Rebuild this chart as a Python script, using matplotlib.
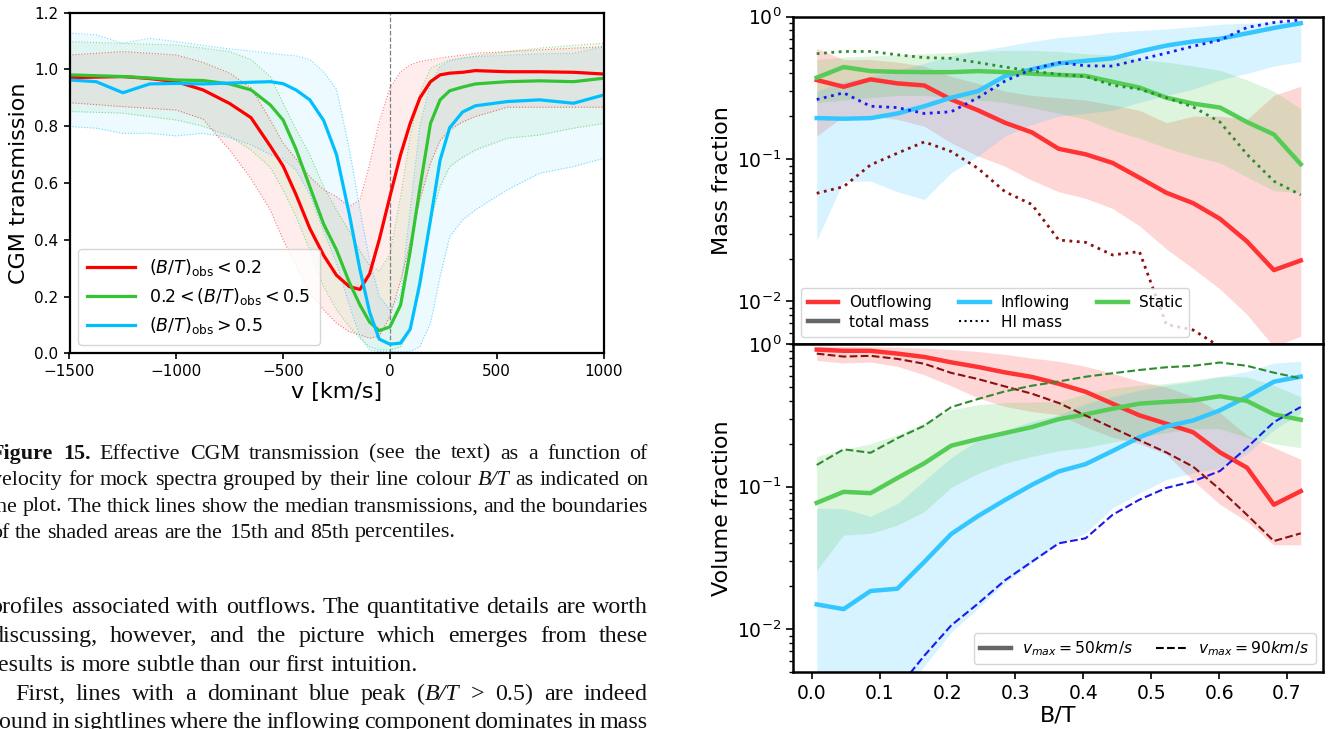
import re
import numpy as np
import matplotlib
matplotlib.use('Agg')
import matplotlib.pyplot as plt
from matplotlib.lines import Line2D

# ---------------- data: left panel (CGM transmission) ----------------
V = [-1500, -1375, -1250, -1125, -1000, -875, -750, -650, -560, -500, -440, -375, -310, -250, -190,
     -140, -95, -50, 0, 50, 95, 140, 190, 235, 280, 340, 400, 550, 700, 860, 1000]
red_med = [0.971, 0.973, 0.975, 0.968, 0.957, 0.928, 0.88, 0.83, 0.73, 0.66, 0.56, 0.44, 0.345, 0.275, 0.235,
           0.225, 0.28, 0.40, 0.552, 0.70, 0.81, 0.899, 0.957, 0.981, 0.987, 0.99, 0.996, 0.992, 0.992, 0.99, 0.984]
red_lo = [0.883, 0.876, 0.869, 0.863, 0.857, 0.825, 0.716, 0.615, 0.505, 0.40, 0.31, 0.211, 0.153, 0.106, 0.076,
          0.065, 0.053, 0.06, 0.13, 0.255, 0.39, 0.54, 0.67, 0.75, 0.787, 0.815, 0.834, 0.867, 0.867, 0.867, 0.867]
red_hi = [1.051, 1.057, 1.063, 1.057, 1.051, 1.025, 0.987, 0.935, 0.822, 0.74, 0.685, 0.622, 0.576, 0.552, 0.517,
          0.54, 0.665, 0.815, 0.934, 0.992, 1.016, 1.028, 1.034, 1.04, 1.045, 1.05, 1.057, 1.063, 1.069, 1.075, 1.08]
green_med = [0.981, 0.978, 0.975, 0.97, 0.963, 0.961, 0.949, 0.928, 0.875, 0.822, 0.72, 0.587, 0.455, 0.364, 0.25,
             0.17, 0.11, 0.08, 0.093, 0.17, 0.36, 0.58, 0.81, 0.893, 0.925, 0.938, 0.949, 0.957, 0.96, 0.957, 0.969]
green_lo = [0.852, 0.849, 0.846, 0.834, 0.822, 0.80, 0.765, 0.716, 0.655, 0.576, 0.482, 0.364, 0.235, 0.153, 0.094,
            0.053, 0.023, 0.012, 0.012, 0.023, 0.082, 0.27, 0.47, 0.587, 0.658, 0.69, 0.716, 0.758, 0.769, 0.793, 0.81]
green_hi = [1.098, 1.095, 1.092, 1.089, 1.086, 1.075, 1.063, 1.035, 0.975, 0.881, 0.79, 0.70, 0.587, 0.505, 0.43,
            0.36, 0.31, 0.29, 0.35, 0.552, 0.763, 0.916, 1.004, 1.02, 1.034, 1.04, 1.047, 1.063, 1.075, 1.085, 1.092]
blue_med = [0.963, 0.957, 0.918, 0.949, 0.951, 0.949, 0.952, 0.955, 0.957, 0.95, 0.928, 0.893, 0.82, 0.70, 0.49,
            0.294, 0.145, 0.05, 0.032, 0.036, 0.085, 0.245, 0.47, 0.681, 0.795, 0.85, 0.872, 0.887, 0.893, 0.881, 0.91]
blue_lo = [0.799, 0.793, 0.775, 0.775, 0.766, 0.775, 0.76, 0.735, 0.70, 0.685, 0.646, 0.56, 0.43, 0.317, 0.17,
           0.059, 0.012, 0.006, 0.006, 0.006, 0.006, 0.023, 0.106, 0.27, 0.411, 0.47, 0.505, 0.576, 0.634, 0.658, 0.687]
blue_hi = [1.128, 1.122, 1.092, 1.11, 1.098, 1.085, 1.072, 1.065, 1.057, 1.052, 1.048, 1.035, 0.992, 0.93, 0.72,
           0.505, 0.329, 0.2, 0.153, 0.211, 0.505, 0.799, 0.951, 1.01, 1.03, 1.04, 1.045, 1.05, 1.055, 1.057, 1.08]
left_labels = [r'$(B/T)_{\rm obs} < 0.2$', r'$0.2 < (B/T)_{\rm obs} < 0.5$', r'$(B/T)_{\rm obs} > 0.5$']

# ---------------- data: right panels ----------------
BT = [0.0075, 0.0471, 0.0867, 0.1263, 0.1659, 0.2055, 0.2451, 0.2847, 0.3243, 0.3639,
      0.4035, 0.4431, 0.4827, 0.5223, 0.5619, 0.6015, 0.6411, 0.6807, 0.7203]
mass_out = [0.359, 0.322, 0.363, 0.34, 0.329, 0.262, 0.22, 0.18, 0.154, 0.118, 0.108, 0.094, 0.074, 0.058, 0.049, 0.038, 0.0264, 0.0166, 0.0194]
mass_out_lo = [0.145, 0.2, 0.2, 0.19, 0.17, 0.13, 0.105, 0.089, 0.071, 0.059, 0.053, 0.045, 0.034, 0.0234, 0.017, 0.0122, 0.0081, 0.0048, 0.0057]
mass_out_hi = [0.6, 0.5, 0.5, 0.48, 0.45, 0.38, 0.34, 0.3, 0.28, 0.27, 0.26, 0.24, 0.22, 0.18, 0.2, 0.2, 0.19, 0.28, 0.325]
mass_in = [0.194, 0.192, 0.194, 0.209, 0.235, 0.27, 0.30, 0.383, 0.427, 0.47, 0.49, 0.51, 0.57, 0.627, 0.67, 0.70, 0.764, 0.833, 0.90]
mass_in_lo = [0.027, 0.07, 0.07, 0.059, 0.052, 0.08, 0.105, 0.145, 0.175, 0.2, 0.21, 0.22, 0.25, 0.28, 0.31, 0.36, 0.40, 0.45, 0.485]
mass_in_hi = [0.3, 0.35, 0.38, 0.42, 0.47, 0.53, 0.575, 0.62, 0.67, 0.715, 0.74, 0.78, 0.80, 0.82, 0.85, 0.885, 0.90, 0.92, 0.93]
mass_st = [0.373, 0.443, 0.415, 0.41, 0.408, 0.408, 0.415, 0.408, 0.398, 0.39, 0.384, 0.349, 0.318, 0.27, 0.245, 0.23, 0.182, 0.149, 0.092]
mass_st_lo = [0.25, 0.26, 0.27, 0.28, 0.28, 0.27, 0.26, 0.25, 0.23, 0.21, 0.19, 0.16, 0.14, 0.12, 0.105, 0.094, 0.075, 0.06, 0.058]
mass_st_hi = [0.5, 0.52, 0.53, 0.54, 0.55, 0.56, 0.57, 0.58, 0.58, 0.57, 0.55, 0.54, 0.5, 0.48, 0.45, 0.42, 0.36, 0.3, 0.226]
hi_out = [0.0575, 0.064, 0.091, 0.11, 0.132, 0.113, 0.086, 0.059, 0.048, 0.027, 0.026, 0.0212, 0.0224, 0.0069, 0.0063, 0.0048, 0.003, 0.002, 0.0015]
hi_in = [0.262, 0.292, 0.235, 0.23, 0.209, 0.215, 0.27, 0.353, 0.427, 0.476, 0.452, 0.45, 0.5, 0.555, 0.62, 0.685, 0.84, 0.91, 0.95]
hi_st = [0.55, 0.57, 0.57, 0.54, 0.516, 0.51, 0.476, 0.443, 0.415, 0.394, 0.38, 0.33, 0.31, 0.27, 0.232, 0.182, 0.108, 0.07, 0.056]

vol_out = [0.918, 0.9, 0.9, 0.86, 0.815, 0.747, 0.693, 0.635, 0.59, 0.528, 0.464, 0.383, 0.317, 0.277, 0.241, 0.174, 0.136, 0.0747, 0.093]
vol_out_lo = [0.77, 0.74, 0.75, 0.70, 0.61, 0.51, 0.42, 0.366, 0.337, 0.32, 0.262, 0.222, 0.2, 0.169, 0.11, 0.075, 0.057, 0.039, 0.039]
vol_out_hi = [0.97, 0.965, 0.96, 0.955, 0.94, 0.92, 0.89, 0.85, 0.8, 0.76, 0.70, 0.626, 0.55, 0.5, 0.43, 0.33, 0.23, 0.188, 0.156]
vol_in = [0.0149, 0.0138, 0.0185, 0.0192, 0.0296, 0.0465, 0.0622, 0.0806, 0.103, 0.128, 0.144, 0.178, 0.222, 0.265, 0.292, 0.344, 0.428, 0.546, 0.593]
vol_in_lo = [0.002, 0.002, 0.002, 0.003, 0.0055, 0.0095, 0.014, 0.021, 0.029, 0.04, 0.047, 0.071, 0.09, 0.112, 0.125, 0.135, 0.17, 0.25, 0.33]
vol_in_hi = [0.0705, 0.07, 0.062, 0.076, 0.11, 0.16, 0.213, 0.25, 0.287, 0.32, 0.383, 0.43, 0.476, 0.516, 0.546, 0.59, 0.645, 0.738, 0.76]
vol_st = [0.077, 0.092, 0.09, 0.115, 0.146, 0.194, 0.216, 0.238, 0.262, 0.298, 0.322, 0.353, 0.383, 0.394, 0.404, 0.432, 0.4, 0.322, 0.295]
vol_st_lo = [0.0259, 0.0457, 0.047, 0.0537, 0.0667, 0.099, 0.124, 0.146, 0.163, 0.179, 0.188, 0.205, 0.222, 0.24, 0.255, 0.255, 0.222, 0.2, 0.188]
vol_st_hi = [0.163, 0.183, 0.2, 0.231, 0.28, 0.347, 0.376, 0.39, 0.393, 0.397, 0.45, 0.49, 0.516, 0.53, 0.562, 0.598, 0.59, 0.516, 0.428]
vol90_out = [0.86, 0.82, 0.83, 0.79, 0.73, 0.63, 0.57, 0.506, 0.45, 0.387, 0.316, 0.259, 0.212, 0.174, 0.138, 0.0955, 0.0634, 0.0415, 0.047]
vol90_in = [0.002, 0.0025, 0.003, 0.0038, 0.0065, 0.0106, 0.0151, 0.022, 0.0297, 0.04, 0.0434, 0.0634, 0.081, 0.098, 0.109, 0.129, 0.188, 0.284, 0.363]
vol90_st = [0.142, 0.183, 0.173, 0.219, 0.268, 0.362, 0.413, 0.467, 0.512, 0.548, 0.592, 0.626, 0.66, 0.69, 0.706, 0.745, 0.706, 0.632, 0.576]

# ---------------- page text ----------------
CAPTION = [
    ("**Figure** **15.** Effective CGM transmission (see the text) as a function of", True, 0),
    ("velocity for mock spectra grouped by their line colour *B/T* as indicated on", True, 0),
    ("the plot. The thick lines show the median transmissions, and the boundaries", True, 0),
    ("of the shaded areas are the 15th and 85th percentiles.", False, 0),
]
BODY = [
    ("profiles associated with outflows. The quantitative details are worth", True, 0),
    ("discussing, however, and the picture which emerges from these", True, 0),
    ("results is more subtle than our first intuition.", False, 0),
    ("First, lines with a dominant blue peak (*B/T* > 0.5) are indeed", True, 1),
    ("found in sightlines where the inflowing component dominates in mass", True, 0),
]

W, H = 1333, 729
fig = plt.figure(figsize=(W / 100, H / 100), dpi=100)


def fx(px):
    return px / W


def fy(py):
    return 1 - py / H


# ================= left panel =================
axL = fig.add_axes([fx(69.5), fy(353.3), (603.5 - 69.5) / W, (353.3 - 12.7) / H])
groups = [(red_med, red_lo, red_hi, '#ff0000'),
          (green_med, green_lo, green_hi, '#33c433'),
          (blue_med, blue_lo, blue_hi, '#00bfff')]
for med, lo, hi, c in groups:
    axL.fill_between(V, lo, hi, color=c, alpha=0.07, lw=0)
    axL.plot(V, lo, ':', color=c, lw=0.8, alpha=0.55)
    axL.plot(V, hi, ':', color=c, lw=0.8, alpha=0.55)
axL.axvline(0, color='gray', ls='--', lw=0.9)
for (med, lo, hi, c), lab in zip(groups, left_labels):
    axL.plot(V, med, color=c, lw=2.3, label=lab)
axL.set_xlim(-1500, 1000)
axL.set_ylim(0, 1.2)
axL.set_yticks([0.0, 0.2, 0.4, 0.6, 0.8, 1.0, 1.2])
axL.set_yticklabels(['0.0', '0.2', '0.4', '0.6', '0.8', '1.0', '1.2'])
axL.set_xticks([-1500, -1000, -500, 0, 500, 1000])
axL.tick_params(labelsize=11, width=1.2, length=4.5)
for s in axL.spines.values():
    s.set_linewidth(1.6)
axL.set_xlabel('v [km/s]', fontsize=16, labelpad=2)
axL.set_ylabel('CGM transmission', fontsize=16)
axL.legend(loc='lower left', fontsize=12.5, handlelength=2.8, borderpad=0.5, labelspacing=0.45)

# ================= right panels =================
xr0, xr1 = 793.3, 1323.3
ph = 327.6
axM = fig.add_axes([fx(xr0), fy(16.7 + ph), (xr1 - xr0) / W, ph / H])
axV = fig.add_axes([fx(xr0), fy(16.7 + 2 * ph), (xr1 - xr0) / W, ph / H], sharex=axM)

c_out, c_in, c_st = '#ff3333', '#33c6ff', '#55cc55'
d_out, d_in, d_st = '#8b1010', '#1a1aee', '#2e8b2e'

for lo, hi, c in [(mass_out_lo, mass_out_hi, c_out), (mass_in_lo, mass_in_hi, c_in), (mass_st_lo, mass_st_hi, c_st)]:
    axM.fill_between(BT, lo, hi, color=c, alpha=0.2, lw=0)
axM.plot(BT, mass_out, color=c_out, lw=3.2)
axM.plot(BT, mass_in, color=c_in, lw=3.2)
axM.plot(BT, mass_st, color=c_st, lw=3.2)
axM.plot(BT, hi_out, ':', color=d_out, lw=2.0)
axM.plot(BT, hi_in, ':', color=d_in, lw=2.0)
axM.plot(BT, hi_st, ':', color=d_st, lw=2.0)

for lo, hi, c in [(vol_out_lo, vol_out_hi, c_out), (vol_in_lo, vol_in_hi, c_in), (vol_st_lo, vol_st_hi, c_st)]:
    axV.fill_between(BT, lo, hi, color=c, alpha=0.2, lw=0)
axV.plot(BT, vol_out, color=c_out, lw=3.2)
axV.plot(BT, vol_in, color=c_in, lw=3.2)
axV.plot(BT, vol_st, color=c_st, lw=3.2)
axV.plot(BT, vol90_out, '--', color=d_out, lw=1.5)
axV.plot(BT, vol90_in, '--', color=d_in, lw=1.5)
axV.plot(BT, vol90_st, '--', color=d_st, lw=1.5)

for ax in (axM, axV):
    ax.set_yscale('log')
    ax.set_ylim(5e-3, 1)
    ax.tick_params(labelsize=13.5, width=1.2, length=5)
    ax.tick_params(which='minor', width=1.0, length=3)
    for s in ax.spines.values():
        s.set_linewidth(1.8)
axM.set_xlim(-0.027, 0.7535)
axM.tick_params(axis='x', which='both', labelbottom=False, length=0)
axV.set_xticks([0.0, 0.1, 0.2, 0.3, 0.4, 0.5, 0.6, 0.7])
axV.set_xticklabels(['0.0', '0.1', '0.2', '0.3', '0.4', '0.5', '0.6', '0.7'])
axM.set_ylabel('Mass fraction', fontsize=16)
axV.set_ylabel('Volume fraction', fontsize=16)
axV.set_xlabel('B/T', fontsize=16, labelpad=2)

hM = [Line2D([], [], color=c_out, lw=3.2), Line2D([], [], color='#666666', lw=3.2),
      Line2D([], [], color=c_in, lw=3.2), Line2D([], [], color='black', lw=1.5, ls=':'),
      Line2D([], [], color=c_st, lw=3.2)]
lM = ['Outflowing', 'total mass', 'Inflowing', 'HI mass', 'Static']
axM.legend(hM, lM, ncol=3, loc='lower left', fontsize=11, handlelength=2.0, columnspacing=1.8,
           handletextpad=0.7, labelspacing=0.3, borderpad=0.45)
hV = [Line2D([], [], color='#666666', lw=3.2), Line2D([], [], color='black', lw=1.5, ls='--')]
lV = [r'$v_{max} = 50km/s$', r'$v_{max} = 90km/s$']
axV.legend(hV, lV, ncol=2, loc='lower right', fontsize=11.2, handlelength=2.0, columnspacing=1.5,
           handletextpad=0.7)

# ================= page text (justified) =================
renderer = fig.canvas.get_renderer()
SERIF = 'Liberation Serif'
_cache = {}


def parse(word):
    segs = []
    for m in re.finditer(r'\*\*(.+?)\*\*|\*(.+?)\*|([^*]+)', word):
        if m.group(1):
            segs.append((m.group(1), 'bold', 'normal'))
        elif m.group(2):
            segs.append((m.group(2), 'normal', 'italic'))
        else:
            segs.append((m.group(3), 'normal', 'normal'))
    return segs


def measure(seg, fs):
    key = (seg, fs)
    if key not in _cache:
        t = fig.text(0, 0, seg[0], fontsize=fs, family=SERIF, fontweight=seg[1], fontstyle=seg[2])
        _cache[key] = t.get_window_extent(renderer=renderer).width
        t.remove()
    return _cache[key]


def fit_size(lines, target, xl, xr, indent, mingap):
    ref = 10.0
    best = target
    for text, just, ind in lines:
        if not just:
            continue
        words = [parse(w) for w in text.split()]
        nat = sum(measure(s, ref) for w in words for s in w) + (len(words) - 1) * mingap * ref * 100 / 72
        avail = xr - (xl + ind * indent)
        best = min(best, ref * avail / nat)
    return best


def draw_block(lines, baselines, fs, xl, xr, indent):
    for (text, just, ind), yb in zip(lines, baselines):
        words = [parse(w) for w in text.split()]
        widths = [sum(measure(s, fs) for s in w) for w in words]
        x0 = xl + ind * indent
        if just and len(words) > 1:
            gap = (xr - x0 - sum(widths)) / (len(words) - 1)
        else:
            gap = 0.25 * fs * 100 / 72
        x = x0
        for w, wd in zip(words, widths):
            xx = x
            for s in w:
                fig.text(fx(xx), fy(yb), s[0], fontsize=fs, family=SERIF, fontweight=s[1],
                         fontstyle=s[2], ha='left', va='baseline', color='#111111')
                xx += measure(s, fs)
            x += wd + gap


XL, XR, IND = -9.0, 648.0, 24.0
fs_cap = fit_size(CAPTION, 20.0, XL, XR, IND, 0.22)
fs_body = fit_size(BODY, 20.0, XL, XR, IND, 0.17)
draw_block(CAPTION, [458.5, 485.0, 511.5, 537.5], fs_cap, XL, XR, IND)
draw_block(BODY, [613.0, 642.0, 671.0, 700.0, 728.0], fs_body, XL, XR, IND)

fig.savefig('out.png', dpi=100)
